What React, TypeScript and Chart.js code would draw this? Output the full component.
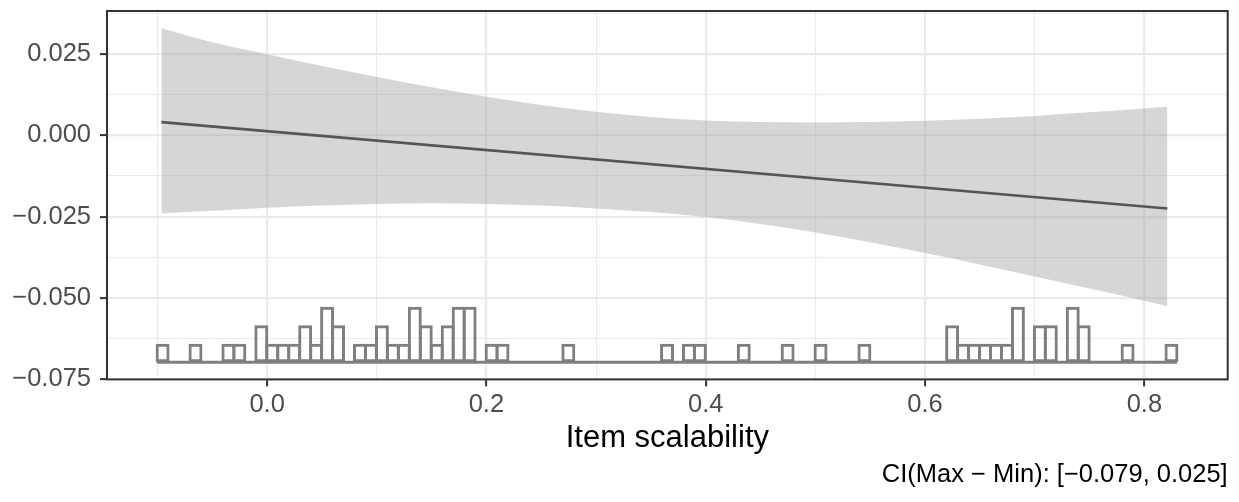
import React, { useEffect, useRef } from "react";
import { Chart, registerables } from "chart.js";

Chart.register(...registerables);

// ---- axis ticks ----
const xMajorTicks = [0, 0.2, 0.4, 0.6, 0.8];
const xTickLabels = ["0.0", "0.2", "0.4", "0.6", "0.8"];
const xMinorTicks = [-0.1, 0.1, 0.3, 0.5, 0.7];
const yMajorTicks = [0.025, 0, -0.025, -0.05, -0.075];
const yTickLabels = ["0.025", "0.000", "\u22120.025", "\u22120.050", "\u22120.075"];
const yMinorTicks = [0.0375, 0.0125, -0.0125, -0.0375, -0.0625];

// ---- fitted line and confidence band ----
const fitX = [-0.0964, 0.821];
const fitY = [0.0041, -0.0225];
const bandX = [-0.0964, -0.05, 0, 0.05, 0.1, 0.15, 0.2, 0.25, 0.3, 0.35, 0.4, 0.45, 0.5, 0.55, 0.6, 0.65, 0.7, 0.75, 0.8, 0.821];
const bandUpper = [0.033, 0.0287, 0.025, 0.0214, 0.018, 0.0148, 0.0119, 0.0094, 0.0073, 0.0057, 0.0046, 0.0041, 0.004, 0.0041, 0.0045, 0.0051, 0.006, 0.0071, 0.0083, 0.0088];
const bandLower = [-0.024, -0.0232, -0.0223, -0.0216, -0.0211, -0.0209, -0.0211, -0.0216, -0.0225, -0.0236, -0.0251, -0.0273, -0.0299, -0.0329, -0.0362, -0.0397, -0.0434, -0.0471, -0.0509, -0.0526];

// ---- histogram of item scalability (bin width 0.01) ----
const histBinCenters = [
  -0.0953, -0.0653, -0.0353, -0.0253, -0.0053, 0.0047, 0.0147, 0.0247, 0.0347, 0.0447,
  0.0547, 0.0647, 0.0847, 0.0947, 0.1047, 0.1147, 0.1247, 0.1347, 0.1447, 0.1547,
  0.1647, 0.1747, 0.1847, 0.2047, 0.2147, 0.2747, 0.3647, 0.3847, 0.3947, 0.4347,
  0.4747, 0.5047, 0.5447, 0.6247, 0.6347, 0.6447, 0.6547, 0.6647, 0.6747, 0.6847,
  0.7047, 0.7147, 0.7347, 0.7447, 0.7847, 0.8247,
];
const histCounts = [
  1, 1, 1, 1, 2, 1, 1, 1, 2, 1,
  3, 2, 1, 1, 2, 1, 1, 3, 2, 1,
  2, 3, 3, 1, 1, 1, 1, 1, 1, 1,
  1, 1, 1, 2, 1, 1, 1, 1, 1, 3,
  2, 2, 3, 2, 1, 1,
];
const histRange = [-0.1003, 0.8297];
const histBase = -0.0698;
const histUnit = 0.00569;

const xRange = [-0.146, 0.876];
const yRange = [-0.0751, 0.0383];
const xTitle = "Item scalability";
const caption = "CI(Max \u2212 Min): [\u22120.079, 0.025]";

const FONT = '"Liberation Sans", Arial, Helvetica, sans-serif';
const TICK_SIZE = 25.5;

const near = (a: number, b: number) => Math.abs(a - b) < 1e-9;
const isMajor = (list: number[], v: number) => list.some((m) => near(m, v));

const panelBorder = {
  id: "panelBorder",
  afterDraw(chart: any) {
    const { ctx, chartArea } = chart;
    const { left, top, right, bottom } = chartArea;
    ctx.save();
    ctx.strokeStyle = "#333333";
    ctx.lineWidth = 2;
    ctx.strokeRect(left, top, right - left, bottom - top);
    ctx.restore();
  },
};

export default function App() {
  const ref = useRef<HTMLCanvasElement>(null);

  useEffect(() => {
    if (!ref.current) return;

    const histData = histBinCenters.map((x, i) => ({
      x,
      y: [histBase, histBase + histCounts[i] * histUnit],
    }));

    const chart = new Chart(ref.current, {
      type: "bar",
      data: {
        datasets: [
          {
            type: "bar",
            label: "histogram",
            data: histData as any,
            backgroundColor: "rgba(0,0,0,0)",
            borderColor: "#7F7F7F",
            borderWidth: 3,
            borderSkipped: false,
            categoryPercentage: 1,
            barPercentage: 1.27,
            order: 0,
          } as any,
          {
            type: "line",
            label: "baseline",
            data: histRange.map((x) => ({ x, y: histBase })),
            borderColor: "#7F7F7F",
            borderWidth: 3,
            pointRadius: 0,
            fill: false,
            order: 1,
          },
          {
            type: "line",
            label: "fit",
            data: fitX.map((x, i) => ({ x, y: fitY[i] })),
            borderColor: "#555555",
            borderWidth: 2.7,
            pointRadius: 0,
            fill: false,
            order: 2,
          },
          {
            type: "line",
            label: "upper",
            data: bandX.map((x, i) => ({ x, y: bandUpper[i] })),
            borderWidth: 0,
            borderColor: "rgba(0,0,0,0)",
            backgroundColor: "rgba(153,153,153,0.4)",
            pointRadius: 0,
            cubicInterpolationMode: "monotone",
            fill: "+1",
            order: 3,
          },
          {
            type: "line",
            label: "lower",
            data: bandX.map((x, i) => ({ x, y: bandLower[i] })),
            borderWidth: 0,
            borderColor: "rgba(0,0,0,0)",
            pointRadius: 0,
            cubicInterpolationMode: "monotone",
            fill: false,
            order: 4,
          },
        ],
      },
      options: {
        animation: false,
        responsive: false,
        maintainAspectRatio: false,
        devicePixelRatio: 1,
        layout: { padding: { top: 11, right: 11.3, left: 0, bottom: 0 } },
        plugins: {
          legend: { display: false },
          tooltip: { enabled: false },
          subtitle: {
            display: true,
            text: caption,
            position: "bottom",
            align: "end",
            color: "#000000",
            font: { family: FONT, size: TICK_SIZE, weight: "normal" },
            padding: { top: 0, bottom: 12 },
          },
        },
        scales: {
          x: {
            type: "linear",
            min: xRange[0],
            max: xRange[1],
            offset: false,
            afterBuildTicks: (s: any) => {
              s.ticks = [...xMinorTicks, ...xMajorTicks]
                .sort((a, b) => a - b)
                .map((v) => ({ value: v }));
            },
            afterFit: (s: any) => {
              s.height = 80;
              s.paddingLeft = 0;
              s.paddingRight = 0;
            },
            ticks: {
              autoSkip: false,
              maxRotation: 0,
              minRotation: 0,
              color: "#4D4D4D",
              font: { family: FONT, size: TICK_SIZE },
              padding: 3,
              callback: (v: any) => {
                const i = xMajorTicks.findIndex((m) => near(m, Number(v)));
                return i >= 0 ? xTickLabels[i] : "";
              },
            },
            grid: {
              offset: false,
              color: "#EBEBEB",
              lineWidth: (ctx: any) => (isMajor(xMajorTicks, ctx.tick?.value) ? 2.2 : 1.1),
              drawTicks: true,
              tickLength: 7,
              tickWidth: 2,
              tickColor: (ctx: any) => (isMajor(xMajorTicks, ctx.tick?.value) ? "#333333" : "rgba(0,0,0,0)"),
            },
            border: { display: false },
            title: {
              display: true,
              text: xTitle,
              color: "#000000",
              font: { family: FONT, size: 31 },
              padding: { top: 0, bottom: 2 },
            },
          },
          y: {
            type: "linear",
            min: yRange[0],
            max: yRange[1],
            afterBuildTicks: (s: any) => {
              s.ticks = [...yMinorTicks, ...yMajorTicks]
                .sort((a, b) => a - b)
                .map((v) => ({ value: v }));
            },
            afterFit: (s: any) => {
              s.width = 107;
              s.paddingTop = 0;
              s.paddingBottom = 0;
            },
            ticks: {
              autoSkip: false,
              color: "#4D4D4D",
              font: { family: FONT, size: TICK_SIZE },
              padding: 9,
              callback: (v: any) => {
                const i = yMajorTicks.findIndex((m) => near(m, Number(v)));
                return i >= 0 ? yTickLabels[i] : "";
              },
            },
            grid: {
              color: "#EBEBEB",
              lineWidth: (ctx: any) => (isMajor(yMajorTicks, ctx.tick?.value) ? 2.2 : 1.1),
              drawTicks: true,
              tickLength: 7,
              tickWidth: 2,
              tickColor: (ctx: any) => (isMajor(yMajorTicks, ctx.tick?.value) ? "#333333" : "rgba(0,0,0,0)"),
            },
            border: { display: false },
          },
        },
      } as any,
      plugins: [panelBorder],
    });

    return () => chart.destroy();
  }, []);

  return (
    <div style={{ position: "absolute", left: 0, top: 0, width: 1239, height: 502, background: "#FFFFFF" }}>
      <canvas ref={ref} width={1239} height={502} style={{ display: "block", width: 1239, height: 502 }} />
    </div>
  );
}
